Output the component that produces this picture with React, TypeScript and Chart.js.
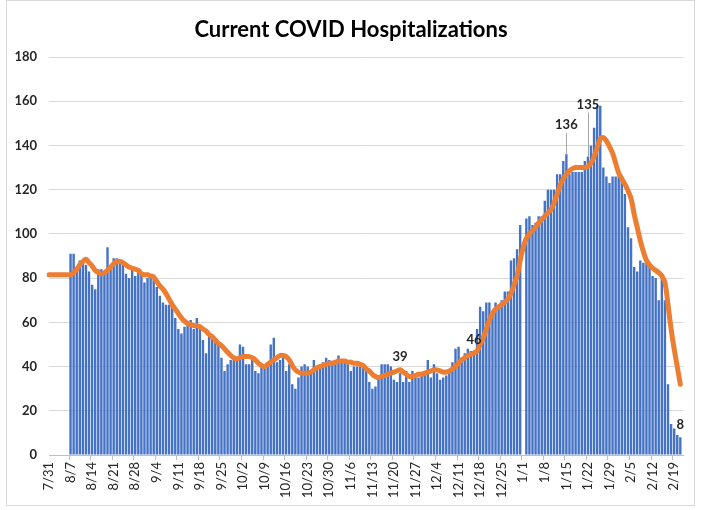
import React, { useEffect, useRef } from "react";
import { Chart, registerables } from "chart.js";

Chart.register(...registerables);

// ---- Data ----
const startMonth = 7;
const startDay = 31;
const dayCount = 207; // 7/31 .. 2/22

const monthLengths: Record<number, number> = { 7: 31, 8: 31, 9: 30, 10: 31, 11: 30, 12: 31, 1: 31, 2: 28 };

function buildLabels(): string[] {
  const out: string[] = [];
  let m = startMonth;
  let d = startDay;
  for (let i = 0; i < dayCount; i++) {
    out.push(`${m}/${d}`);
    d++;
    if (d > monthLengths[m]) {
      d = 1;
      m = m === 12 ? 1 : m + 1;
    }
  }
  return out;
}
const dateLabels = buildLabels();

// Daily current hospitalizations (bars)
const hospitalizations: (number | null)[] = [
  null, null, null, null, null, null, null,
  91, 91, 84, 88, 88, 86, 83, 77, 75, 84, 84, 83, 94, 85,
  89, 89, 88, 86, 82, 80, 84, 81, 83, 82, 78, 80, 80, 81,
  76, 72, 69, 68, 68, 69, 62, 57, 55, 58, 60, 61, 57, 62,
  58, 52, 46, 54, 54, 51, 50, 44, 38, 41, 43, 44, 44, 50,
  49, 41, 41, 43, 38, 37, 40, 39, 40, 50, 53, 42, 43, 45,
  38, 41, 32, 30, 35, 40, 41, 40, 38, 43, 39, 41, 42, 44,
  43, 42, 42, 45, 43, 42, 42, 38, 40, 40, 40, 40, 38, 33,
  30, 31, 35, 41, 41, 41, 40, 34, 33, 37, 33, 38, 33, 38,
  35, 35, 36, 38, 43, 35, 41, 37, 34, 35, 36, 38, 42, 48,
  49, 44, 46, 48, 47, 47, 57, 67, 65, 69, 69, 64, 69, 66,
  70, 74, 74, 88, 89, 93, 104, null, 107, 108, 104, 105, 108, 108,
  115, 120, 120, 120, 127, 127, 133, 136, 127, 128, 128, 128, 128, 133,
  135, 140, 148, 158, 158, 130, 126, 123, 126, 126, 127, 124, 118, 103,
  98, 85, 83, 88, 87, 87, 85, 81, 80, 70, 80, 70, 32, 14,
  12, 9, 8, null,
];

// Smoothed trend (orange line)
const trendAverage: (number | null)[] = [
  81.5, 81.5, 81.5, 81.5, 81.5, 81.5, 81.5,
  81.5, 82.5, 84, 86, 87.5, 88.5, 87, 85.5, 83.5, 82.5, 82, 82.5, 83.5, 85,
  86.5, 87.5, 87.5, 87, 86, 85, 84.5, 84, 83.5, 82, 81.5, 81.5, 81, 80.5,
  78.5, 76.5, 75, 73, 70.5, 68, 66, 64, 62, 60.5, 59.5, 59, 58.5, 58.5,
  58, 57, 56, 54.5, 53.5, 52, 50.5, 49.5, 48, 46.5, 45, 44, 43.5, 44,
  44.5, 44.5, 44.5, 44, 43, 41.5, 40.5, 40, 41, 42, 43, 44, 45, 45,
  44.5, 43, 40.5, 38.5, 37.5, 37, 37, 37, 37.5, 38.5, 39.5, 40, 40.5, 41,
  41.5, 41.5, 42, 42.5, 42.5, 42.5, 42, 42, 41.5, 41.5, 41, 40.5, 39, 38,
  36.5, 35.5, 35, 35.5, 36, 36.5, 37, 37.5, 38, 38.6, 37.5, 36.5, 35.5, 35.5,
  36, 36.5, 36.5, 37, 37.5, 38, 38.5, 38.5, 38, 37.5, 37.5, 38, 39, 40,
  41.5, 43, 44, 45, 45.5, 46.2, 47, 50, 53, 57, 61, 64, 66, 67,
  68, 69, 70.5, 73, 77, 81, 88, 94, 98, 100, 101.5, 103, 105, 106.5,
  108, 109.5, 111, 114, 118, 122, 125, 127, 128.5, 129.5, 130, 130, 130, 130,
  130.5, 132, 135, 139, 143, 143.5, 142, 139.5, 136.5, 132, 127.5, 125, 122.5, 119.5,
  116, 109, 103, 97, 92, 88, 86, 84.5, 83.5, 82.5, 81, 78, 68, 57,
  48, 40, 32, null,
];

const yTicks = [0, 20, 40, 60, 80, 100, 120, 140, 160, 180];

// Points that carry a value label
const barLabelIndices = [168, 175, 205];
const lineLabelIndices = [114, 138];

const TITLE = "Current COVID Hospitalizations";

const labelPlugin = {
  id: "customLabels",
  beforeDraw(chart: any) {
    const ctx = chart.ctx;
    ctx.save();
    ctx.fillStyle = "#ffffff";
    ctx.fillRect(0, 0, chart.width, chart.height);
    ctx.strokeStyle = "#d9d9d9";
    ctx.lineWidth = 1;
    ctx.strokeRect(6.5, 0.5, 688, 505);
    ctx.fillStyle = "#000000";
    ctx.font = "bold 22px Lato";
    ctx.textAlign = "center";
    ctx.textBaseline = "middle";
    ctx.fillText(TITLE, 351, 30);
    ctx.restore();
  },
  afterDatasetsDraw(chart: any) {
    const ctx = chart.ctx;
    const lineMeta = chart.getDatasetMeta(0);
    const barMeta = chart.getDatasetMeta(1);
    const lifts: Record<number, number> = { 168: 29, 175: 52, 205: 12 };
    ctx.save();
    ctx.font = "bold 13px Lato";
    ctx.fillStyle = "#262626";
    ctx.textAlign = "center";
    ctx.textBaseline = "middle";
    barLabelIndices.forEach((i) => {
      const el = barMeta.data[i];
      const v = hospitalizations[i];
      if (!el || v == null) return;
      const lift = lifts[i] ?? 12;
      const ly = el.y - lift;
      if (lift > 20) {
        ctx.strokeStyle = "#a6a6a6";
        ctx.lineWidth = 1;
        ctx.beginPath();
        ctx.moveTo(Math.round(el.x) + 0.5, ly + 8);
        ctx.lineTo(Math.round(el.x) + 0.5, el.y);
        ctx.stroke();
      }
      ctx.fillText(String(v), el.x, ly);
    });
    lineLabelIndices.forEach((i) => {
      const el = lineMeta.data[i];
      const v = trendAverage[i];
      if (!el || v == null) return;
      ctx.fillText(String(Math.round(v)), el.x, el.y - 13);
    });
    ctx.restore();
  },
};

export default function App() {
  const canvasRef = useRef<HTMLCanvasElement | null>(null);

  useEffect(() => {
    const canvas = canvasRef.current;
    if (!canvas) return;
    const chart = new Chart(canvas, {
      data: {
        labels: dateLabels,
        datasets: [
          {
            type: "line" as const,
            data: trendAverage,
            borderColor: "#ED7D31",
            borderWidth: 5,
            pointRadius: 0,
            tension: 0.4,
            borderCapStyle: "round",
            borderJoinStyle: "round",
            order: 0,
          },
          {
            type: "bar" as const,
            data: hospitalizations,
            backgroundColor: "#4472C4",
            barPercentage: 0.78,
            categoryPercentage: 1,
            order: 1,
          },
        ],
      },
      options: {
        animation: false,
        responsive: false,
        maintainAspectRatio: false,
        layout: { padding: { top: 57, left: 0, right: 15, bottom: 10 } },
        plugins: {
          legend: { display: false },
          tooltip: { enabled: false },
          title: { display: false },
        },
        scales: {
          x: {
            type: "category",
            offset: false,
            grid: {
              drawOnChartArea: false,
              drawTicks: true,
              tickLength: 5,
              color: (c: any) => (c.index % 7 === 0 ? "#bfbfbf" : "rgba(0,0,0,0)"),
            },
            border: { display: true, color: "#bfbfbf" },
            ticks: {
              autoSkip: false,
              maxRotation: 90,
              minRotation: 90,
              padding: 2,
              color: "#262626",
              font: { family: "Lato", size: 13 },
              callback: (_v: any, i: number) => (i % 7 === 0 ? dateLabels[i] : ""),
            },
            afterFit: (scale: any) => {
              scale.height = 45;
            },
          },
          y: {
            min: 0,
            max: 180,
            afterBuildTicks: (scale: any) => {
              scale.ticks = yTicks.map((v) => ({ value: v }));
            },
            grid: { color: "#d9d9d9", drawTicks: false },
            border: { display: false },
            ticks: {
              padding: 12,
              color: "#262626",
              font: { family: "Lato", size: 13, weight: "bold" },
            },
            afterFit: (scale: any) => {
              scale.width = 49;
            },
          },
        },
      } as any,
      plugins: [labelPlugin],
    } as any);
    return () => chart.destroy();
  }, []);

  return (
    <div style={{ position: "fixed", left: 0, top: 0, width: 701, height: 510, background: "#fff" }}>
      <canvas ref={canvasRef} width={701} height={510} style={{ display: "block", width: 701, height: 510 }} />
    </div>
  );
}
